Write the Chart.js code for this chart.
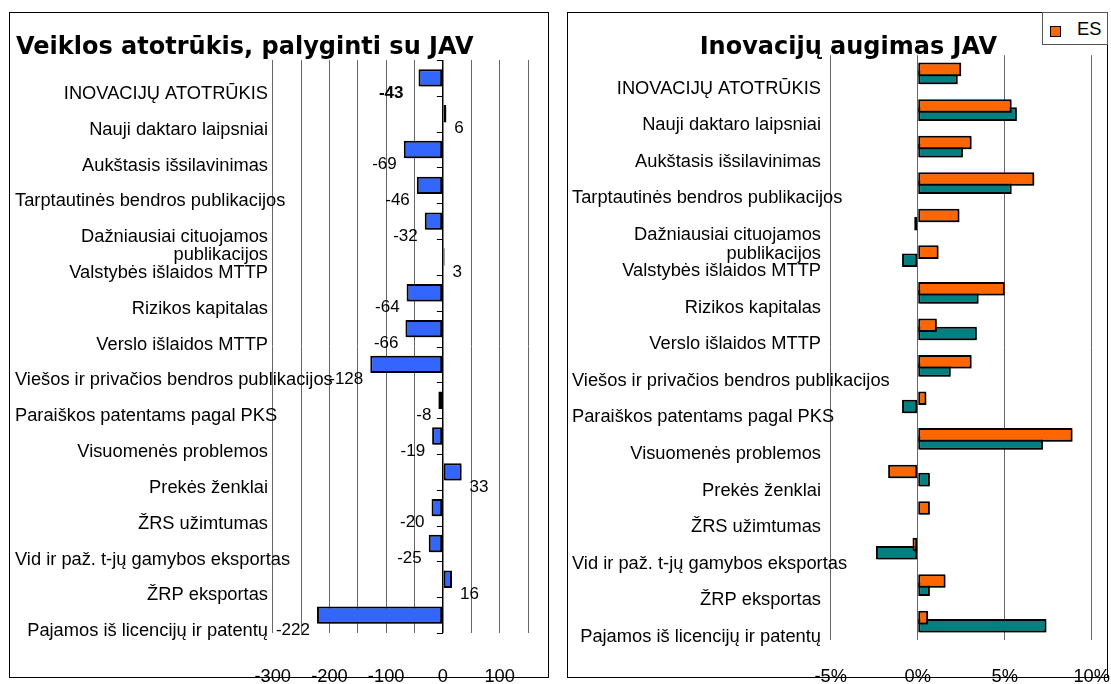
<!DOCTYPE html>
<html><head><meta charset="utf-8">
<script src="https://cdn.jsdelivr.net/npm/chart.js@4.4.1/dist/chart.umd.min.js"></script>
<style>
html,body{margin:0;padding:0;background:#fff;overflow:hidden;width:1111px;height:684px;}
canvas{position:absolute;}
.frame{position:absolute;border:1.5px solid #000;box-sizing:border-box;pointer-events:none;}
#legend{position:absolute;left:1042px;top:12px;width:66px;height:33px;box-sizing:border-box;border:1px solid #555;background:#fff;font:18.3px "Liberation Sans",Arial,sans-serif;color:#000;}
#legend .sw{position:absolute;left:7px;top:13px;width:11px;height:11px;box-sizing:border-box;background:#FF6600;border:1.5px solid #000;}
#legend .tx{position:absolute;left:34px;top:5px;line-height:22px;}
</style></head><body>
<canvas id="c1" width="541" height="672" style="left:9px;top:12px"></canvas>
<canvas id="c2" width="544" height="672" style="left:567px;top:12px"></canvas>
<div class="frame" style="left:9px;top:12px;width:540px;height:666px"></div>
<div class="frame" style="left:567px;top:12px;width:541px;height:666px"></div>
<div id="legend"><div class="sw"></div><div class="tx">ES</div></div>
<script>
// ---- data ----
const categories = [
  'INOVACIJŲ ATOTRŪKIS',
  'Nauji daktaro laipsniai',
  'Aukštasis išsilavinimas',
  'Tarptautinės bendros publikacijos',
  ['Dažniausiai cituojamos', 'publikacijos'],
  'Valstybės išlaidos MTTP',
  'Rizikos kapitalas',
  'Verslo išlaidos MTTP',
  'Viešos ir privačios bendros publikacijos',
  'Paraiškos patentams pagal PKS',
  'Visuomenės problemos',
  'Prekės ženklai',
  'ŽRS užimtumas',
  'Vid ir paž. t-jų gamybos eksportas',
  'ŽRP eksportas',
  'Pajamos iš licencijų ir patentų'
];
const gapVsUS = [-43, 6, -69, -46, -32, 3, -64, -66, -128, -8, -19, 33, -20, -25, 16, -222];
const growthES = [2.5, 5.4, 3.1, 6.7, 2.4, 1.2, 5.0, 1.1, 3.1, 0.5, 8.9, -1.7, 0.7, -0.3, 1.6, 0.6];
const growthUS = [2.3, 5.7, 2.6, 5.4, -0.2, -0.9, 3.5, 3.4, 1.9, -0.9, 7.2, 0.7, 0, -2.4, 0.7, 7.4];
const leftTickValues = [-300, -200, -100, 0, 100];
const rightTickValues = [-5, 0, 5, 10];
const rightTickLabels = ['-5%', '0%', '5%', '10%'];
const leftTitle = 'Veiklos atotrūkis, palyginti su JAV';
const rightTitle = 'Inovacijų augimas JAV';
const seriesNames = ['ES', 'JAV'];

// ---- plugins ----
const FONT = '"Liberation Sans", Arial, sans-serif';
Chart.defaults.font.family = FONT;
Chart.defaults.color = '#000';

const catLabels = {
  id: 'catLabels',
  afterDraw(chart, args, o) {
    const ctx = chart.ctx, ys = chart.scales.y, area = chart.chartArea;
    ctx.save();
    ctx.font = '18.3px ' + FONT;
    ctx.fillStyle = '#000';
    ctx.textBaseline = 'middle';
    ctx.textAlign = 'left';
    chart.data.labels.forEach((lab, i) => {
      const lines = Array.isArray(lab) ? lab : [lab];
      const y0 = ys.getPixelForValue(i) + o.dy;
      lines.forEach((t, j) => {
        const w = ctx.measureText(t).width;
        const x = Math.max(area.left - o.gap - w, o.minLeft);
        ctx.fillText(t, x, y0 + j * o.lineGap);
      });
    });
    ctx.restore();
  }
};

const barShadow = {
  id: 'barShadow',
  beforeDatasetsDraw(chart) {
    const ctx = chart.ctx;
    ctx.save();
    ctx.shadowColor = 'rgba(0,0,0,0.35)';
    ctx.shadowOffsetX = 2;
    ctx.shadowOffsetY = 2;
    ctx.shadowBlur = 0;
  },
  afterDatasetsDraw(chart) {
    chart.ctx.restore();
  }
};

const zeroTicks = {
  id: 'zeroTicks',
  afterDatasetsDraw(chart, args, o) {
    const xs = chart.scales.x, ys = chart.scales.y, ctx = chart.ctx;
    const x0 = xs.getPixelForValue(0);
    ctx.save();
    ctx.strokeStyle = '#000';
    ctx.lineWidth = 1;
    ctx.beginPath();
    for (let i = 0; i <= chart.data.labels.length; i++) {
      const y = Math.round(ys.getPixelForValue(i - 0.5)) + 0.5;
      ctx.moveTo(x0 - o.len, y);
      ctx.lineTo(x0, y);
    }
    ctx.stroke();
    ctx.restore();
  }
};

const valueLabels = {
  id: 'valueLabels',
  afterDatasetsDraw(chart, args, o) {
    const meta = chart.getDatasetMeta(0), ctx = chart.ctx;
    const vals = chart.data.datasets[0].data;
    ctx.save();
    ctx.fillStyle = '#000';
    ctx.textBaseline = 'middle';
    meta.data.forEach((bar, i) => {
      const v = vals[i];
      const bold = i === 0;
      ctx.font = (bold ? 'bold ' : '') + '17px ' + FONT;
      if (v < 0) {
        ctx.textAlign = 'right';
        ctx.fillText(String(v), bar.x - (bold ? 15 : 7), bar.y + o.dy);
      } else {
        ctx.textAlign = 'left';
        ctx.fillText(String(v), bar.x + 8, bar.y + o.dy);
      }
    });
    ctx.restore();
  }
};

function fixX(h) {
  return (s) => { s.height = h; s.paddingLeft = 0; s.paddingRight = 0; };
}

// ---- left chart ----
new Chart(document.getElementById('c1'), {
  type: 'bar',
  data: {
    labels: categories,
    datasets: [{
      data: gapVsUS,
      backgroundColor: '#3366FF',
      borderColor: '#000',
      borderWidth: 2,
      borderSkipped: false,
      categoryPercentage: 0.5,
      barPercentage: 0.97
    }]
  },
  options: {
    indexAxis: 'y',
    responsive: false,
    animation: false,
    devicePixelRatio: 1,
    layout: { padding: { left: 7, right: 22, top: 0, bottom: 0 } },
    scales: {
      x: {
        type: 'linear', min: -300, max: 150,
        ticks: {
          stepSize: 50, padding: 33, autoSkip: false, maxRotation: 0,
          font: { size: 18.3 }, color: '#000',
          callback: (v) => leftTickValues.includes(v) ? String(v) : ''
        },
        grid: {
          drawTicks: false,
          color: (c) => (c.tick && c.tick.value === 0) ? '#000' : '#666',
          lineWidth: (c) => (c.tick && c.tick.value === 0) ? 1.5 : 1
        },
        border: { display: false },
        afterFit: fixX(51)
      },
      y: {
        type: 'category', offset: true,
        ticks: { display: false },
        grid: { display: false },
        border: { display: false },
        afterFit: (s) => { s.width = 256.7; s.paddingTop = 0; s.paddingBottom = 0; }
      }
    },
    plugins: {
      legend: { display: false },
      tooltip: { enabled: false },
      title: {
        display: true, text: leftTitle, align: 'start', color: '#000',
        font: { family: '"DejaVu Sans", Verdana, sans-serif', size: 24, weight: 'bold', lineHeight: 1 },
        padding: { top: 24, bottom: 0 }
      },
      catLabels: { dy: 16, gap: 4.7, minLeft: 6, lineGap: 18 },
      valueLabels: { dy: 15 },
      zeroTicks: { len: 6 }
    }
  },
  plugins: [barShadow, zeroTicks, catLabels, valueLabels]
});

// ---- right chart ----
new Chart(document.getElementById('c2'), {
  type: 'bar',
  data: {
    labels: categories,
    datasets: [
      { label: seriesNames[0], data: growthES, backgroundColor: '#FF6600', borderColor: '#000', borderWidth: 2, borderSkipped: false, categoryPercentage: 0.45, barPercentage: 1.65 },
      { label: seriesNames[1], data: growthUS, backgroundColor: '#008080', borderColor: '#000', borderWidth: 2, borderSkipped: false, categoryPercentage: 0.45, barPercentage: 1.65 }
    ]
  },
  options: {
    indexAxis: 'y',
    responsive: false,
    animation: false,
    devicePixelRatio: 1,
    layout: { padding: { left: 38, right: 19.3, top: 0, bottom: 0 } },
    scales: {
      x: {
        type: 'linear', min: -5, max: 10,
        ticks: {
          stepSize: 5, padding: 26, autoSkip: false, maxRotation: 0,
          font: { size: 18.3 }, color: '#000',
          callback: (v) => { const k = rightTickValues.indexOf(v); return k >= 0 ? rightTickLabels[k] : ''; }
        },
        grid: { drawTicks: false, color: '#666', lineWidth: 1 },
        border: { display: false },
        afterFit: fixX(44)
      },
      y: {
        type: 'category', offset: true,
        ticks: { display: false },
        grid: { display: false },
        border: { display: false },
        afterFit: (s) => { s.width = 225.7; s.paddingTop = 0; s.paddingBottom = 0; }
      }
    },
    plugins: {
      legend: { display: false },
      tooltip: { enabled: false },
      title: {
        display: true, text: rightTitle, align: 'center', color: '#000',
        font: { family: '"DejaVu Sans", Verdana, sans-serif', size: 24, weight: 'bold', lineHeight: 0.6 },
        padding: { top: 28.8, bottom: 0 }
      },
      catLabels: { dy: 15, gap: 9.7, minLeft: 5, lineGap: 19 }
    }
  },
  plugins: [barShadow, catLabels]
});
</script>
</body></html>
